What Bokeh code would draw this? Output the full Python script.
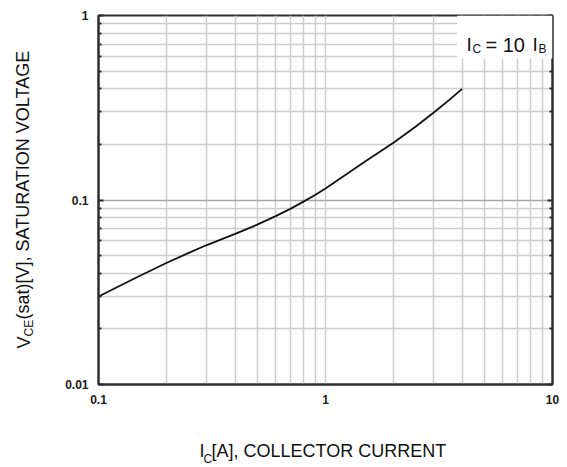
import math
from bokeh.plotting import figure
from bokeh.models import (FixedTicker, LogAxis, Label, BoxAnnotation, Range1d)
from bokeh.embed import file_html
from bokeh.resources import INLINE

# ---- data ----
ic = [0.1, 0.15, 0.2, 0.25, 0.3, 0.4, 0.5, 0.6, 0.7, 0.8, 0.9, 1.0,
      1.2, 1.5, 2.0, 2.5, 3.0, 3.5, 4.0]
vce = [0.030, 0.0385, 0.0457, 0.0517, 0.0570, 0.0655, 0.0735, 0.0815,
       0.0895, 0.0980, 0.1065, 0.1155, 0.1345, 0.162, 0.205, 0.250, 0.298,
       0.348, 0.400]

x_ticks = [0.1, 1, 10]
x_tick_labels = ["0.1", "1", "10"]
y_ticks = [0.01, 0.1, 1]
y_tick_labels = ["0.01", "0.1", "1"]
x_minor = [0.2, 0.3, 0.4, 0.5, 0.6, 0.7, 0.8, 0.9, 2, 3, 4, 5, 6, 7, 8, 9]
y_minor = [0.02, 0.03, 0.04, 0.05, 0.06, 0.07, 0.08, 0.09,
           0.2, 0.3, 0.4, 0.5, 0.6, 0.7, 0.8, 0.9]

FONT = "Liberation Sans"
GRID = "#cdcdcd"
FRAME = "#2e2e2e"

p = figure(width=567, height=467, x_axis_type="log", y_axis_type="log",
           x_range=Range1d(0.1, 10), y_range=Range1d(0.01, 1),
           output_backend="svg", toolbar_location=None,
           min_border_left=98, min_border_right=15, min_border_top=15,
           min_border_bottom=83)
p.background_fill_color = "white"
p.border_fill_color = "white"
p.outline_line_color = FRAME
p.outline_line_width = 2

xt = FixedTicker(ticks=x_ticks, minor_ticks=x_minor)
yt = FixedTicker(ticks=y_ticks, minor_ticks=y_minor)

xa = p.xaxis[0]
xa.ticker = xt
xa.major_label_overrides = dict(zip(x_ticks, x_tick_labels))
xa.major_tick_in = 0
xa.major_tick_out = 0
xa.minor_tick_in = 0
xa.minor_tick_out = 0
xa.axis_line_color = FRAME
xa.axis_line_width = 2
xa.major_label_standoff = 10
xa.major_label_text_font = FONT
xa.major_label_text_font_style = "bold"
xa.major_label_text_font_size = "12px"
xa.major_label_text_color = "#1a1a1a"

ya = p.yaxis[0]
ya.ticker = yt
ya.major_label_overrides = dict(zip(y_ticks, y_tick_labels))
ya.major_tick_in = 5
ya.major_tick_out = 0
ya.minor_tick_in = 3
ya.minor_tick_out = 0
ya.major_tick_line_width = 2
ya.minor_tick_line_width = 2
ya.major_tick_line_color = FRAME
ya.minor_tick_line_color = FRAME
ya.axis_line_color = FRAME
ya.axis_line_width = 2
ya.major_label_standoff = 10
ya.major_label_text_font = FONT
ya.major_label_text_font_style = "bold"
ya.major_label_text_font_size = "12px"
ya.major_label_text_color = "#1a1a1a"

ra = LogAxis(ticker=yt)
ra.major_label_overrides = {t: "" for t in y_ticks}
ra.major_label_standoff = 0
ra.major_tick_in = 5
ra.major_tick_out = 0
ra.minor_tick_in = 3
ra.minor_tick_out = 0
ra.major_tick_line_width = 2
ra.minor_tick_line_width = 2
ra.major_tick_line_color = FRAME
ra.minor_tick_line_color = FRAME
ra.axis_line_color = FRAME
ra.axis_line_width = 2
p.add_layout(ra, "right")

# grids
p.xgrid.grid_line_color = GRID
p.xgrid.grid_line_width = 1.5
p.xgrid.minor_grid_line_color = GRID
p.xgrid.minor_grid_line_width = 1.5
p.ygrid.grid_line_color = "#a6a6a6"
p.ygrid.grid_line_width = 1.5
p.ygrid.minor_grid_line_color = GRID
p.ygrid.minor_grid_line_width = 1.5

# curve
p.line(ic, vce, line_color="#111111", line_width=1.8)

# condition box (white background)
p.add_layout(BoxAnnotation(left=3.8, right=10, bottom=0.585, top=1,
                           fill_color="white", fill_alpha=1,
                           line_color=None))

def lab(text, x, y, size, angle=0.0, side="center"):
    l = Label(text=text, x=x, y=y, x_units="screen", y_units="screen",
              angle=angle, text_font=FONT, text_font_size=size,
              text_color="#111111", text_baseline="alphabetic",
              text_align="left")
    p.add_layout(l, side)

# legend text  "I_C = 10 I_B"
lab("I", 368, 340, "19px")
lab("C", 374, 336, "12px")
lab("= 10", 387, 340, "20px")
lab("I", 434, 340, "19px")
lab("B", 440, 336, "12px")

# x axis label  "I_C[A], COLLECTOR CURRENT"
lab("I", 101, -24, "18px", side="below")
lab("C", 105, -18, "12px", side="below")
lab("[A], COLLECTOR CURRENT", 113, 10, "18px", side="below")

# y axis label  "V_CE(sat)[V], SATURATION VOLTAGE"
lab("V", -19, 36, "18px", math.pi / 2, side="left")
lab("CE", 0, 48, "12px", math.pi / 2, side="left")
lab("(sat)[V], SATURATION VOLTAGE", 14, 65, "18px", math.pi / 2, side="left")

open("out.html", "w").write(file_html(p, INLINE))
